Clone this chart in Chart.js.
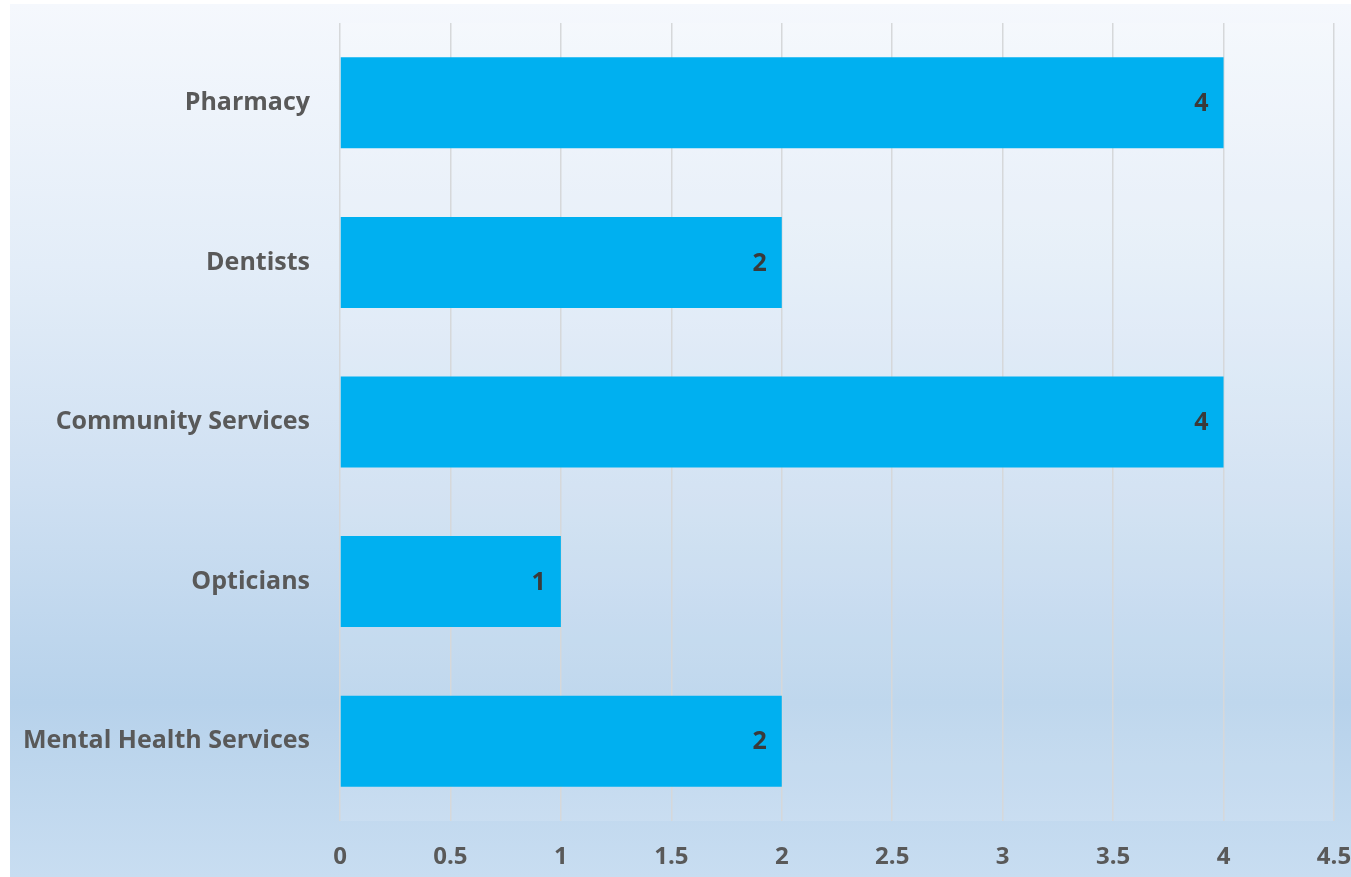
<!DOCTYPE html>
<html>
<head>
<meta charset="utf-8">
<script src="https://cdn.jsdelivr.net/npm/chart.js@4.4.0/dist/chart.umd.min.js"></script>
<style>
  html, body { margin: 0; padding: 0; background: #fff; }
  #fundo {
    position: absolute; left: 10px; top: 4px; width: 1341px; height: 873px;
    background: linear-gradient(to bottom, #f5f8fd 0%, #e3edf8 30%, #cfe0f2 55%, #b7d2eb 80%, #c8ddf1 100%);
  }
  #wrap { position: absolute; left: 0; top: 0; width: 1351px; height: 877px; }
</style>
</head>
<body>
<div id="fundo"></div>
<div id="wrap"><canvas id="grafico"></canvas></div>
<script>
// Dados do gráfico
const categorias = ["Pharmacy", "Dentists", "Community Services", "Opticians", "Mental Health Services"];
const valores = [4, 2, 4, 1, 2];
const ticksX = [0, 0.5, 1, 1.5, 2, 2.5, 3, 3.5, 4, 4.5];

const fonte = "'Open Sans', 'DejaVu Sans', sans-serif";

// plugin simples pra escrever o valor na ponta da barra
const rotulosBarra = {
  id: "rotulosBarra",
  afterDatasetsDraw(chart) {
    const ctx = chart.ctx;
    const meta = chart.getDatasetMeta(0);
    ctx.save();
    ctx.font = "bold 25px " + fonte;
    ctx.fillStyle = "#3a3a3a";
    ctx.textAlign = "right";
    ctx.textBaseline = "middle";
    meta.data.forEach((barra, i) => {
      ctx.fillText(String(valores[i]), barra.x - 15, barra.y + 1);
    });
    ctx.restore();
  }
};

// leve clareada na área do gráfico
const fundoArea = {
  id: "fundoArea",
  beforeDraw(chart) {
    const { ctx, chartArea } = chart;
    ctx.save();
    ctx.fillStyle = "rgba(255,255,255,0.12)";
    ctx.fillRect(chartArea.left, chartArea.top, chartArea.right - chartArea.left, chartArea.bottom - chartArea.top);
    ctx.restore();
  }
};

new Chart(document.getElementById("grafico"), {
  type: "bar",
  data: {
    labels: categorias,
    datasets: [{
      data: valores,
      backgroundColor: "#00b0f0",
      barPercentage: 0.57,
      categoryPercentage: 1
    }]
  },
  options: {
    indexAxis: "y",
    responsive: true,
    maintainAspectRatio: false,
    animation: false,
    layout: { padding: { top: 23, right: 17, bottom: 0, left: 0 } },
    plugins: { legend: { display: false }, tooltip: { enabled: false } },
    scales: {
      x: {
        min: 0,
        max: 4.5,
        afterBuildTicks(axis) {
          axis.ticks = ticksX.map(v => ({ value: v }));
        },
        afterFit(axis) {
          axis.height = 56;
          axis.paddingLeft = 0;
          axis.paddingRight = 0;
        },
        grid: { color: "#d6d8da", lineWidth: 1.5, drawTicks: false },
        border: { display: false },
        ticks: {
          padding: 22,
          color: "#595959",
          font: { family: fonte, size: 24, weight: "bold" },
          maxRotation: 0,
          autoSkip: false,
          callback: v => String(v)
        }
      },
      y: {
        afterFit(axis) {
          axis.width = 340;
          axis.paddingTop = 0;
          axis.paddingBottom = 0;
        },
        grid: { display: false, drawTicks: false },
        border: { display: false },
        ticks: {
          padding: 30,
          color: "#595959",
          font: { family: fonte, size: 25, weight: "bold" }
        }
      }
    }
  },
  plugins: [fundoArea, rotulosBarra]
});
</script>
</body>
</html>
